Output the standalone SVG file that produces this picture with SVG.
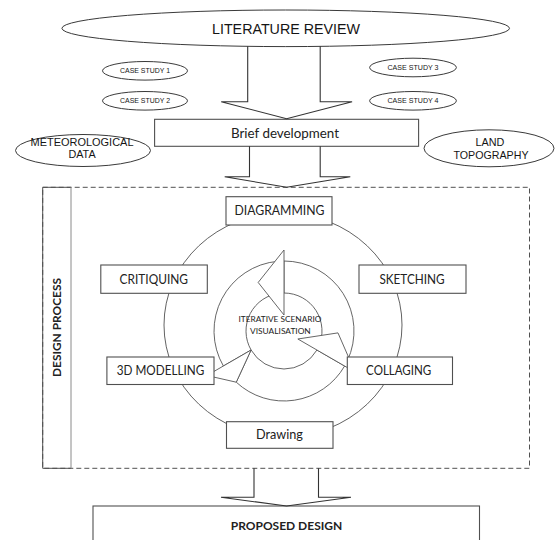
<svg xmlns="http://www.w3.org/2000/svg" width="555" height="540" viewBox="0 0 555 540">
<defs>
<style>
.ell{fill:#fff;stroke:#3a3a3a;stroke-width:1}
.box{fill:#fff;stroke:#505050;stroke-width:1.1}
.bar{fill:none;stroke:#333;stroke-width:1.1}
.ring{fill:#fff;stroke:#555;stroke-width:0.9}
.ar{font-family:"Liberation Sans",Arial,sans-serif;fill:#151515;text-anchor:middle}
.cal{font-family:Lato,"Open Sans",sans-serif;fill:#222;text-anchor:middle}
</style>
</defs>
<rect width="555" height="540" fill="#fff"/>

<g id="literature-review">
<ellipse class="ell" cx="285.7" cy="28.3" rx="223.8" ry="18.3"/>
<text class="ar" x="286" y="33.5" font-size="14" textLength="148" lengthAdjust="spacingAndGlyphs">LITERATURE REVIEW</text>
</g>
<g id="case-study-1">
<ellipse class="ell" cx="145" cy="70.8" rx="42.5" ry="9.3"/>
<text class="ar" x="145" y="73.3" font-size="7" textLength="50" lengthAdjust="spacingAndGlyphs">CASE STUDY 1</text>
</g>
<g id="case-study-2">
<ellipse class="ell" cx="145" cy="100.8" rx="42.5" ry="9.3"/>
<text class="ar" x="145" y="103.3" font-size="7" textLength="50" lengthAdjust="spacingAndGlyphs">CASE STUDY 2</text>
</g>
<g id="case-study-3">
<ellipse class="ell" cx="413" cy="67.5" rx="43.4" ry="9.3"/>
<text class="ar" x="413" y="70" font-size="7" textLength="51" lengthAdjust="spacingAndGlyphs">CASE STUDY 3</text>
</g>
<g id="case-study-4">
<ellipse class="ell" cx="413" cy="100.8" rx="43.4" ry="9.3"/>
<text class="ar" x="413" y="103.3" font-size="7" textLength="51" lengthAdjust="spacingAndGlyphs">CASE STUDY 4</text>
</g>
<g id="brief-development">
<rect class="box" x="154.6" y="119.3" width="264" height="27"/>
<text class="cal" x="285" y="137.6" font-size="12.5" textLength="108" lengthAdjust="spacingAndGlyphs">Brief development</text>
</g>
<g id="meteorological-data">
<ellipse class="ell" cx="83" cy="150.5" rx="67.5" ry="16"/>
<text class="ar" x="82" y="145.6" font-size="10.8" textLength="103" lengthAdjust="spacingAndGlyphs">METEOROLOGICAL</text>
<text class="ar" x="82" y="158.4" font-size="10.8">DATA</text>
</g>
<g id="land-topography">
<ellipse class="ell" cx="489" cy="148.3" rx="65" ry="18.5"/>
<text class="ar" x="490" y="145.8" font-size="10.8">LAND</text>
<text class="ar" x="491" y="158.9" font-size="10.8" textLength="75" lengthAdjust="spacingAndGlyphs">TOPOGRAPHY</text>
</g>

<g id="design-process">
<rect x="42.7" y="187.3" width="486.8" height="281" fill="none" stroke="#505050" stroke-width="1" stroke-dasharray="5,3"/>
<path d="M71,187.3 H42.7 V468.3 H71" fill="none" stroke="#505050" stroke-width="1"/>
<line x1="71" y1="187.3" x2="71" y2="468.3" stroke="#8a8a8a" stroke-width="1"/>
<text class="cal" transform="translate(60.8,327.5) rotate(-90)" font-size="11.5" font-weight="bold" textLength="99" lengthAdjust="spacingAndGlyphs">DESIGN PROCESS</text>
</g>

<g id="cycle">
<ellipse cx="283" cy="325" rx="119" ry="112" fill="none" stroke="#505050" stroke-width="0.9"/>
</g>

<g id="iterative-scenario-visualisation">
<path class="ring" d="M284,261 A70,70 0 0 1 347.44,360.58 L318.44,347.06 A38,38 0 0 0 284,293 Z"/>
<path class="ring" d="M344.62,366 A70,70 0 0 1 236.26,382.19 L251.09,350 A38,38 0 0 0 316.91,350 Z"/>
<path class="ring" d="M223.38,366 A70,70 0 0 1 277.9,261.27 L280.69,293.14 A38,38 0 0 0 251.09,350 Z"/>
<polygon class="ring" points="355.01,372 337.97,332.88 297.86,339"/>
<polygon class="ring" points="206.9,375.5 236.26,382.19 251.09,350"/>
<polygon class="ring" points="284,250 258.18,282.44 284,315"/>
<text class="cal" x="280" y="322.3" font-size="8" fill="#333" textLength="83" lengthAdjust="spacingAndGlyphs">ITERATIVE SCENARIO</text>
<text class="cal" x="280.4" y="333.6" font-size="8" fill="#333" textLength="60.7" lengthAdjust="spacingAndGlyphs">VISUALISATION</text>
</g>

<g id="diagramming">
<rect class="box" x="226" y="196.7" width="106" height="28.3"/>
<text class="cal" x="279.5" y="215.2" font-size="12.5" textLength="90" lengthAdjust="spacingAndGlyphs">DIAGRAMMING</text>
</g>
<g id="critiquing">
<rect class="box" x="100.8" y="265" width="106.5" height="28.3"/>
<text class="cal" x="153.8" y="283.5" font-size="12.5" textLength="68.4" lengthAdjust="spacingAndGlyphs">CRITIQUING</text>
</g>
<g id="sketching">
<rect class="box" x="359" y="265" width="107" height="28.3"/>
<text class="cal" x="412" y="283.5" font-size="12.5" textLength="65.2" lengthAdjust="spacingAndGlyphs">SKETCHING</text>
</g>
<g id="3d-modelling">
<rect class="box" x="106.9" y="357" width="107.1" height="27.5"/>
<text class="cal" x="160.5" y="375.2" font-size="12.5" textLength="87.4" lengthAdjust="spacingAndGlyphs">3D MODELLING</text>
</g>
<g id="collaging">
<rect class="box" x="347.3" y="357" width="105.2" height="27.5"/>
<text class="cal" x="398.7" y="375.2" font-size="12.5" textLength="65.2" lengthAdjust="spacingAndGlyphs">COLLAGING</text>
</g>
<g id="drawing">
<rect class="box" x="226.5" y="421.7" width="106.5" height="26.6"/>
<text class="cal" x="279.5" y="439.3" font-size="12.5" textLength="46.9" lengthAdjust="spacingAndGlyphs">Drawing</text>
</g>

<g id="proposed-design">
<rect class="box" x="93" y="506" width="386.5" height="45"/>
<text class="cal" x="286.5" y="530.2" font-size="12" font-weight="bold" textLength="111.5" lengthAdjust="spacingAndGlyphs">PROPOSED DESIGN</text>
</g>

<g id="connectors">
<path class="bar" d="M247.7,46.3 V101.7 H221.2 L286.6,118.8 L352.1,101.7 H320.2 V46.3"/>
<path class="bar" d="M249.5,146.3 V176.7 H224.7 L286.6,187.3 L350.3,176.7 H320.2 V146.3"/>
<path class="bar" d="M254,468.3 V497.3 H221 L286.6,506 L351,497.3 H318.5 V468.3"/>
</g>
</svg>
